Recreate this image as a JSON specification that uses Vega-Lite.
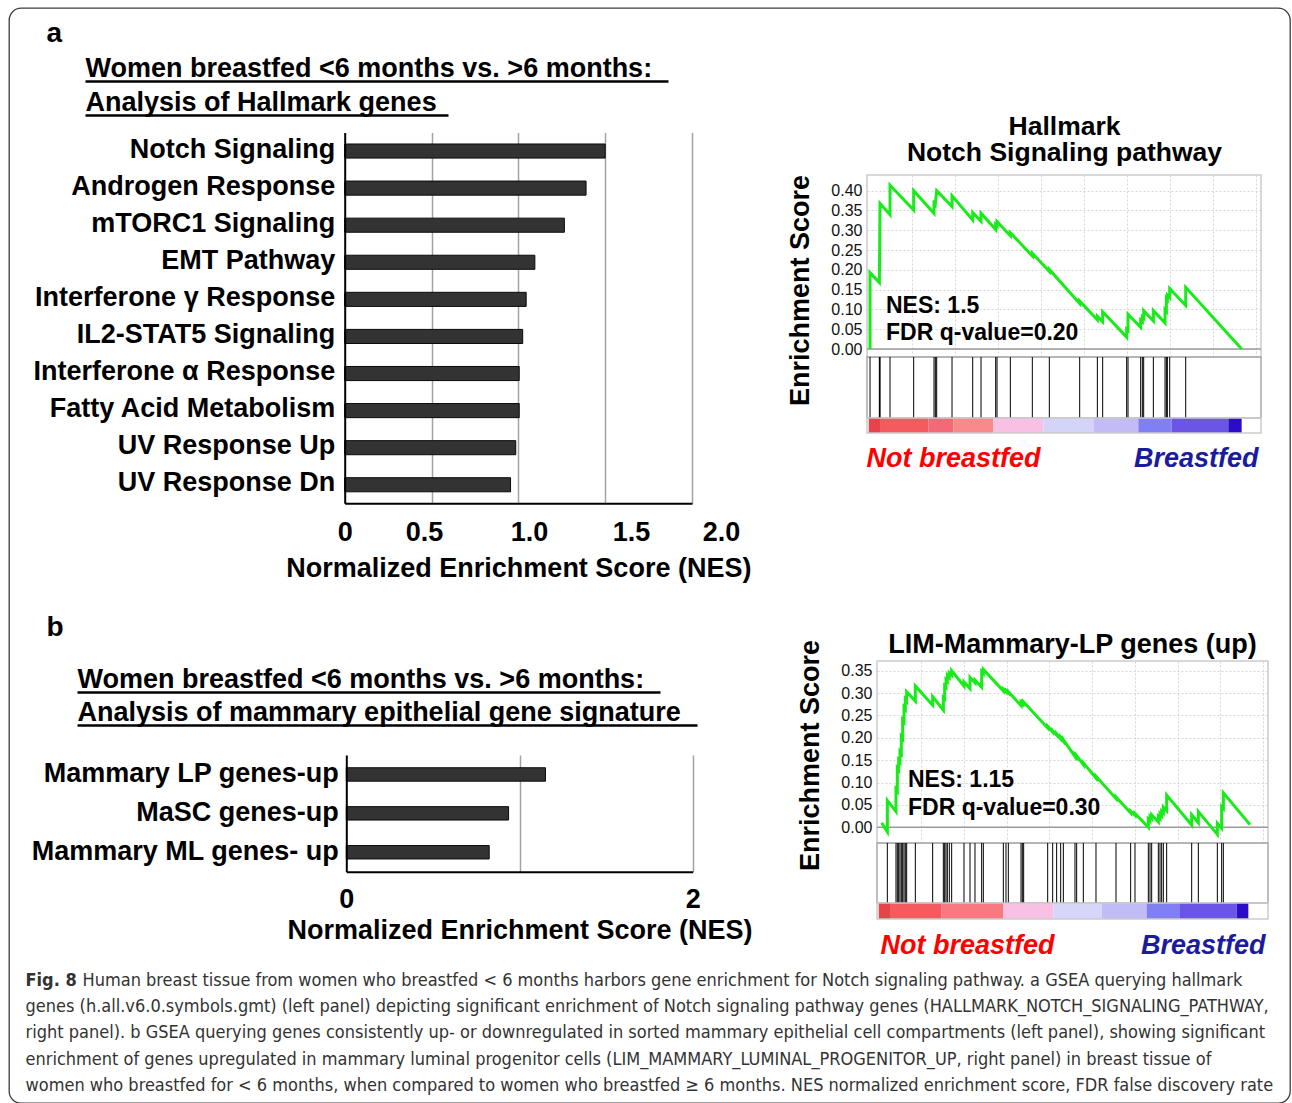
{
"$schema": "https://vega.github.io/schema/vega-lite/v6.json",
"width": 1281, "height": 1095,
"autosize": {"type": "none"},
"padding": {"left": 9, "top": 8, "right": 2, "bottom": 0},
"background": "white",
"config": {
  "view": {"stroke": "#3c3c3c", "strokeWidth": 1.3, "cornerRadius": 12},
  "font": "Liberation Sans",
  "axis": {"labels": false, "ticks": false, "domain": false, "grid": false, "labelColor": "#000", "titleColor": "#000", "labelLimit": 2000, "titleLimit": 2000, "minExtent": 0, "labelFlush": false, "labelOverlap": false, "labelFont": "Liberation Sans", "titleFont": "Liberation Sans"}
},
"datasets": {
  "barsA": [
    {"set": "Notch Signaling", "nes": 1.50},
    {"set": "Androgen Response", "nes": 1.39},
    {"set": "mTORC1 Signaling", "nes": 1.265},
    {"set": "EMT Pathway", "nes": 1.095},
    {"set": "Interferone γ Response", "nes": 1.045},
    {"set": "IL2-STAT5 Signaling", "nes": 1.025},
    {"set": "Interferone α Response", "nes": 1.005},
    {"set": "Fatty Acid Metabolism", "nes": 1.005},
    {"set": "UV Response Up", "nes": 0.985},
    {"set": "UV Response Dn", "nes": 0.955}
  ],
  "barsB": [
    {"set": "Mammary LP genes-up", "nes": 1.15},
    {"set": "MaSC genes-up", "nes": 0.937},
    {"set": "Mammary ML genes- up", "nes": 0.825}
  ],
  "esA": [
    {"i":1,"rank":76,"es":0},{"i":2,"rank":76,"es":0.193},{"i":3,"rank":618,"es":0.168},{"i":4,"rank":638,"es":0.267},
    {"i":5,"rank":657,"es":0.368},{"i":6,"rank":1238,"es":0.339},{"i":7,"rank":1238,"es":0.414},{"i":8,"rank":2613,"es":0.351},
    {"i":9,"rank":2613,"es":0.400},{"i":10,"rank":3795,"es":0.343},{"i":11,"rank":3795,"es":0.375},{"i":12,"rank":3873,"es":0.368},
    {"i":13,"rank":3950,"es":0.400},{"i":14,"rank":4842,"es":0.360},{"i":15,"rank":4842,"es":0.387},{"i":16,"rank":6043,"es":0.326},
    {"i":17,"rank":6043,"es":0.345},{"i":18,"rank":6527,"es":0.323},{"i":19,"rank":6527,"es":0.343},{"i":20,"rank":7379,"es":0.302},
    {"i":21,"rank":7379,"es":0.315},{"i":22,"rank":7457,"es":0.312},{"i":23,"rank":7457,"es":0.322},{"i":24,"rank":8232,"es":0.286},
    {"i":25,"rank":8232,"es":0.294},{"i":26,"rank":9510,"es":0.235},{"i":27,"rank":9510,"es":0.242},{"i":28,"rank":10498,"es":0.196},
    {"i":29,"rank":10498,"es":0.201},{"i":30,"rank":12261,"es":0.115},{"i":31,"rank":12261,"es":0.121},{"i":32,"rank":13288,"es":0.074},
    {"i":33,"rank":13288,"es":0.083},{"i":34,"rank":13598,"es":0.069},{"i":35,"rank":13598,"es":0.094},{"i":36,"rank":14993,"es":0.030},
    {"i":37,"rank":14993,"es":0.050},{"i":38,"rank":15070,"es":0.047},{"i":39,"rank":15070,"es":0.088},{"i":40,"rank":15806,"es":0.055},
    {"i":41,"rank":15806,"es":0.073},{"i":42,"rank":15903,"es":0.069},{"i":43,"rank":15903,"es":0.081},{"i":44,"rank":15981,"es":0.078},
    {"i":45,"rank":15981,"es":0.097},{"i":46,"rank":16543,"es":0.071},{"i":47,"rank":16543,"es":0.097},{"i":48,"rank":17223,"es":0.066},
    {"i":49,"rank":17223,"es":0.099},{"i":50,"rank":17300,"es":0.095},{"i":51,"rank":17300,"es":0.128},{"i":52,"rank":17358,"es":0.125},
    {"i":53,"rank":17358,"es":0.136},{"i":54,"rank":17494,"es":0.130},{"i":55,"rank":17494,"es":0.153},{"i":56,"rank":18424,"es":0.110},
    {"i":57,"rank":18424,"es":0.156},{"i":58,"rank":21676,"es":0}
  ],
  "hitsA": [
    {"rank":76},{"rank":618},{"rank":638},{"rank":657},{"rank":1238},{"rank":2613},{"rank":3795},{"rank":3873},{"rank":3950},
    {"rank":4842},{"rank":6043},{"rank":6527},{"rank":7379},{"rank":7457},{"rank":8232},{"rank":9510},{"rank":10498},{"rank":12261},
    {"rank":13288},{"rank":13598},{"rank":14993},{"rank":15070},{"rank":15806},{"rank":15903},{"rank":15981},{"rank":16543},
    {"rank":17223},{"rank":17300},{"rank":17358},{"rank":17494},{"rank":18424}
  ],
  "cbarA": [
    {"seg":1,"start":0,"end":657},{"seg":2,"start":657,"end":3466},{"seg":3,"start":3466,"end":4919},{"seg":4,"start":4919,"end":7244},
    {"seg":5,"start":7244,"end":10150},{"seg":6,"start":10150,"end":13056},{"seg":7,"start":13056,"end":15670},{"seg":8,"start":15670,"end":17608},
    {"seg":9,"start":17608,"end":20902},{"seg":10,"start":20902,"end":21676}
  ],
  "esB": [
    {"i":1,"rank":173,"es":0.010},{"i":2,"rank":505,"es":-0.010},{"i":3,"rank":505,"es":0.060},{"i":4,"rank":1012,"es":0.035},
    {"i":5,"rank":1012,"es":0.085},{"i":6,"rank":1090,"es":0.081},{"i":7,"rank":1090,"es":0.132},{"i":8,"rank":1168,"es":0.128},
    {"i":9,"rank":1168,"es":0.150},{"i":10,"rank":1246,"es":0.146},{"i":11,"rank":1246,"es":0.169},{"i":12,"rank":1324,"es":0.165},
    {"i":13,"rank":1324,"es":0.203},{"i":14,"rank":1403,"es":0.199},{"i":15,"rank":1403,"es":0.240},{"i":16,"rank":1481,"es":0.236},
    {"i":17,"rank":1481,"es":0.268},{"i":18,"rank":1559,"es":0.264},{"i":19,"rank":1559,"es":0.286},{"i":20,"rank":1637,"es":0.282},
    {"i":21,"rank":1637,"es":0.303},{"i":22,"rank":2145,"es":0.282},{"i":23,"rank":2145,"es":0.316},{"i":24,"rank":3160,"es":0.273},
    {"i":25,"rank":3160,"es":0.292},{"i":26,"rank":3785,"es":0.262},{"i":27,"rank":3785,"es":0.290},{"i":28,"rank":3863,"es":0.287},
    {"i":29,"rank":3863,"es":0.316},{"i":30,"rank":3941,"es":0.313},{"i":31,"rank":3941,"es":0.330},{"i":32,"rank":4019,"es":0.327},
    {"i":33,"rank":4019,"es":0.340},{"i":34,"rank":4136,"es":0.335},{"i":35,"rank":4136,"es":0.345},{"i":36,"rank":4273,"es":0.340},
    {"i":37,"rank":4273,"es":0.350},{"i":38,"rank":4995,"es":0.316},{"i":39,"rank":4995,"es":0.325},{"i":40,"rank":5347,"es":0.310},
    {"i":41,"rank":5347,"es":0.335},{"i":42,"rank":5639,"es":0.323},{"i":43,"rank":5639,"es":0.329},{"i":44,"rank":6030,"es":0.313},
    {"i":45,"rank":6030,"es":0.348},{"i":46,"rank":6127,"es":0.344},{"i":47,"rank":6127,"es":0.353},{"i":48,"rank":7299,"es":0.305},
    {"i":49,"rank":7299,"es":0.309},{"i":50,"rank":7455,"es":0.303},{"i":51,"rank":7455,"es":0.306},{"i":52,"rank":7592,"es":0.301},
    {"i":53,"rank":7592,"es":0.303},{"i":54,"rank":8334,"es":0.272},{"i":55,"rank":8334,"es":0.279},{"i":56,"rank":8412,"es":0.276},
    {"i":57,"rank":8412,"es":0.280},{"i":58,"rank":8490,"es":0.277},{"i":59,"rank":8490,"es":0.280},{"i":60,"rank":9896,"es":0.222},
    {"i":61,"rank":9896,"es":0.226},{"i":62,"rank":10188,"es":0.213},{"i":63,"rank":10188,"es":0.216},{"i":64,"rank":10422,"es":0.206},
    {"i":65,"rank":10422,"es":0.209},{"i":66,"rank":10657,"es":0.198},{"i":67,"rank":10657,"es":0.201},{"i":68,"rank":10813,"es":0.193},
    {"i":69,"rank":10813,"es":0.196},{"i":70,"rank":11496,"es":0.158},{"i":71,"rank":11496,"es":0.162},{"i":72,"rank":11594,"es":0.157},
    {"i":73,"rank":11594,"es":0.160},{"i":74,"rank":11984,"es":0.140},{"i":75,"rank":11984,"es":0.144},{"i":76,"rank":12726,"es":0.110},
    {"i":77,"rank":12726,"es":0.114},{"i":78,"rank":13898,"es":0.064},{"i":79,"rank":13898,"es":0.068},{"i":80,"rank":14756,"es":0.032},
    {"i":81,"rank":14756,"es":0.036},{"i":82,"rank":15010,"es":0.027},{"i":83,"rank":15010,"es":0.031},{"i":84,"rank":15791,"es":0.000},
    {"i":85,"rank":15791,"es":0.018},{"i":86,"rank":15889,"es":0.014},{"i":87,"rank":15889,"es":0.024},{"i":88,"rank":15987,"es":0.020},
    {"i":89,"rank":15987,"es":0.028},{"i":90,"rank":16377,"es":0.012},{"i":91,"rank":16377,"es":0.024},{"i":92,"rank":16475,"es":0.020},
    {"i":93,"rank":16475,"es":0.030},{"i":94,"rank":16572,"es":0.026},{"i":95,"rank":16572,"es":0.036},{"i":96,"rank":16670,"es":0.032},
    {"i":97,"rank":16670,"es":0.045},{"i":98,"rank":16865,"es":0.037},{"i":99,"rank":16865,"es":0.072},{"i":100,"rank":18330,"es":0.005},
    {"i":101,"rank":18330,"es":0.028},{"i":102,"rank":18720,"es":0.010},{"i":103,"rank":18720,"es":0.035},{"i":104,"rank":19833,"es":-0.016},
    {"i":105,"rank":19833,"es":0.009},{"i":106,"rank":20086,"es":-0.002},{"i":107,"rank":20086,"es":0.046},{"i":108,"rank":20184,"es":0.042},
    {"i":109,"rank":20184,"es":0.077},{"i":110,"rank":21746,"es":0.006}
  ],
  "hitsB": [
    {"rank":505},{"rank":1012},{"rank":1090},{"rank":1168},{"rank":1246},{"rank":1324},{"rank":1403},{"rank":1481},{"rank":1559},{"rank":1637},
    {"rank":2145},{"rank":3160},{"rank":3785},{"rank":3863},{"rank":3941},{"rank":4019},{"rank":4136},{"rank":4273},{"rank":4995},{"rank":5347},
    {"rank":5639},{"rank":6030},{"rank":6127},{"rank":7299},{"rank":7455},{"rank":7592},{"rank":8334},{"rank":8412},{"rank":8490},{"rank":9896},
    {"rank":10188},{"rank":10422},{"rank":10657},{"rank":10813},{"rank":11496},{"rank":11594},{"rank":11984},{"rank":12726},{"rank":13898},
    {"rank":14756},{"rank":15010},{"rank":15791},{"rank":15889},{"rank":15987},{"rank":16377},{"rank":16475},{"rank":16572},{"rank":16670},
    {"rank":16865},{"rank":18330},{"rank":18720},{"rank":19833},{"rank":20086},{"rank":20184}
  ],
  "cbarB": [
    {"seg":1,"start":0,"end":661},{"seg":2,"start":661,"end":3687},{"seg":3,"start":3687,"end":7299},{"seg":4,"start":7299,"end":10227},
    {"seg":5,"start":10227,"end":13058},{"seg":6,"start":13058,"end":15694},{"seg":7,"start":15694,"end":17646},{"seg":8,"start":17646,"end":20965},
    {"seg":9,"start":20965,"end":21648}
  ]
},
"resolve": {"scale": {"x": "independent", "y": "independent", "color": "independent"}, "axis": {"x": "independent", "y": "independent"}},
"layer": [
  {"data": {"values": [{"v": 0}]}, "mark": {"type": "point", "opacity": 0},
   "encoding": {"x": {"field": "v", "type": "quantitative", "scale": {"domain": [0, 1], "range": [37, 61]},
     "axis": {"orient": "top", "offset": -33.5, "title": "a", "titleAnchor": "start", "titleAlign": "left", "titleBaseline": "alphabetic", "titlePadding": 0, "titleFontSize": 28, "titleFontWeight": "bold"}}}},
  {"data": {"values": [{"v": 0}]}, "mark": {"type": "point", "opacity": 0},
   "encoding": {"x": {"field": "v", "type": "quantitative", "scale": {"domain": [0, 1], "range": [76, 659]},
     "axis": {"orient": "top", "offset": -73, "domain": true, "domainColor": "#000", "domainWidth": 2.5, "title": "Women breastfed <6 months vs. >6 months:", "titleAnchor": "start", "titleAlign": "left", "titleBaseline": "alphabetic", "titlePadding": 5, "titleFontSize": 27, "titleFontWeight": "bold"}}}},
  {"data": {"values": [{"v": 0}]}, "mark": {"type": "point", "opacity": 0},
   "encoding": {"x": {"field": "v", "type": "quantitative", "scale": {"domain": [0, 1], "range": [76, 439]},
     "axis": {"orient": "top", "offset": -107, "domain": true, "domainColor": "#000", "domainWidth": 2.5, "title": "Analysis of Hallmark genes", "titleAnchor": "start", "titleAlign": "left", "titleBaseline": "alphabetic", "titlePadding": 5, "titleFontSize": 27, "titleFontWeight": "bold"}}}},

  {"data": {"name": "barsA"}, "mark": {"type": "point", "opacity": 0},
   "encoding": {
     "x": {"field": "nes", "type": "quantitative", "scale": {"domain": [0, 2], "range": [335.7, 683], "nice": false, "zero": false},
       "axis": {"orient": "top", "offset": 0, "grid": true, "gridColor": "#a3a3a3", "gridWidth": 1.5, "values": [0.5, 1, 1.5, 2], "title": null}},
     "y": {"field": "set", "type": "nominal", "sort": null, "scale": {"range": [124.5, 495.3], "paddingInner": 0.62, "paddingOuter": 0.31}, "axis": null}}},
  {"data": {"name": "barsA"}, "mark": {"type": "point", "opacity": 0},
   "encoding": {
     "x": {"field": "nes", "type": "quantitative", "scale": {"domain": [0, 2.2], "range": [335.7, 717.7], "nice": false, "zero": false},
       "axis": {"orient": "bottom", "offset": -599.7, "labels": true, "values": [0, 0.457, 1.061, 1.649, 2.167],
         "labelExpr": "datum.value < 0.2 ? '0' : datum.value < 0.8 ? '0.5' : datum.value < 1.4 ? '1.0' : datum.value < 1.9 ? '1.5' : '2.0'",
         "labelFontSize": 27, "labelFontWeight": "bold", "labelBaseline": "alphabetic", "labelPadding": 36.7, "title": null}}}},
  {"data": {"name": "barsA"}, "mark": {"type": "bar", "fill": "#333333", "stroke": "#0a0a0a", "strokeWidth": 1},
   "encoding": {
     "y": {"field": "set", "type": "nominal", "sort": null, "scale": {"range": [124.5, 495.3], "paddingInner": 0.62, "paddingOuter": 0.31},
       "axis": {"orient": "left", "offset": -335.7, "domain": true, "domainColor": "#000", "domainWidth": 2, "labels": true, "labelFontSize": 27, "labelFontWeight": "bold", "labelPadding": 10, "labelOffset": -1.5, "title": null, "zindex": 1}},
     "x": {"field": "nes", "type": "quantitative", "scale": {"domain": [0, 2], "range": [335.7, 683], "nice": false},
       "axis": {"orient": "bottom", "offset": -599.7, "domain": true, "domainColor": "#000", "domainWidth": 2, "title": "Normalized Enrichment Score (NES)", "titleFontSize": 27, "titleFontWeight": "bold", "titleBaseline": "alphabetic", "titlePadding": 73, "zindex": 1}}}},

  {"data": {"values": [{}]}, "mark": {"type": "rect", "filled": false, "stroke": "#cccccc", "strokeWidth": 1.5},
   "encoding": {
     "x": {"datum": -100, "type": "quantitative", "scale": {"domain": [-100, 22800], "range": [858, 1252], "nice": false, "zero": false}, "axis": null},
     "x2": {"datum": 22800},
     "y": {"datum": -0.0202, "type": "quantitative", "scale": {"domain": [-0.0202, 0.4397], "range": [349, 167], "nice": false, "zero": false}, "axis": null},
     "y2": {"datum": 0.4397}}},
  {"data": {"values": [{}]}, "mark": {"type": "rule", "stroke": "#9a9a9a", "strokeWidth": 1.5},
   "encoding": {
     "x": {"datum": -100, "type": "quantitative", "scale": {"domain": [-100, 22800], "range": [858, 1252], "nice": false, "zero": false}, "axis": null},
     "x2": {"datum": 22800},
     "y": {"datum": 0, "type": "quantitative", "scale": {"domain": [-0.0202, 0.4397], "range": [349, 167], "nice": false, "zero": false}, "axis": null}}},
  {"data": {"name": "esA"}, "mark": {"type": "line", "stroke": "#19ea19", "strokeWidth": 3},
   "encoding": {
     "order": {"field": "i", "type": "quantitative"},
     "x": {"field": "rank", "type": "quantitative", "scale": {"domain": [-100, 22800], "range": [858, 1252], "nice": false, "zero": false},
       "axis": {"orient": "top", "offset": -167, "grid": true, "gridColor": "#d6d6d6", "gridDash": [2, 2], "gridWidth": 1,
         "values": [2500, 5000, 7500, 10000, 12500, 15000, 17500, 20000, 22500],
         "title": ["Hallmark", "Notch Signaling pathway"], "titleX": 1055, "titleY": -41, "titleAlign": "center", "titleBaseline": "alphabetic", "titleLineHeight": 26, "titleFontSize": 26.5, "titleFontWeight": "bold"}},
     "y": {"field": "es", "type": "quantitative", "scale": {"domain": [-0.0202, 0.4397], "range": [349, 167], "nice": false, "zero": false},
       "axis": {"orient": "left", "offset": -858, "labels": true, "values": [0, 0.05, 0.1, 0.15, 0.2, 0.25, 0.3, 0.35, 0.4], "format": ".2f",
         "labelFontSize": 16, "labelColor": "#111", "labelPadding": 5, "grid": true, "gridColor": "#d6d6d6", "gridDash": [2, 2], "gridWidth": 1,
         "title": "Enrichment Score", "titleX": -59, "titleY": 282, "titleAngle": 270, "titleAlign": "center", "titleBaseline": "alphabetic", "titleFontSize": 27, "titleFontWeight": "bold"}}}},
  {"data": {"values": [{}]}, "mark": {"type": "text", "align": "left", "baseline": "alphabetic", "fontSize": 23, "fontWeight": "bold", "lineHeight": 27.5, "color": "#000"},
   "encoding": {
     "text": {"value": ["NES: 1.5", "FDR q-value=0.20"]},
     "x": {"datum": 1005, "type": "quantitative", "scale": {"domain": [-100, 22800], "range": [858, 1252], "nice": false, "zero": false}, "axis": null},
     "y": {"datum": 0.0917, "type": "quantitative", "scale": {"domain": [-0.0202, 0.4397], "range": [349, 167], "nice": false, "zero": false}, "axis": null}}},
  {"data": {"values": [{}]}, "mark": {"type": "rect", "filled": false, "stroke": "#a9a9a9", "strokeWidth": 1.5},
   "encoding": {
     "x": {"datum": -100, "type": "quantitative", "scale": {"domain": [-100, 22800], "range": [858, 1252], "nice": false, "zero": false}, "axis": null},
     "x2": {"datum": 22800},
     "y": {"datum": 0, "type": "quantitative", "scale": {"domain": [0, 1], "range": [410, 349], "nice": false, "zero": false}, "axis": null},
     "y2": {"datum": 1}}},
  {"data": {"name": "hitsA"}, "mark": {"type": "rule", "stroke": "#000", "strokeWidth": 1},
   "encoding": {
     "x": {"field": "rank", "type": "quantitative", "scale": {"domain": [-100, 22800], "range": [858, 1252], "nice": false, "zero": false},
       "axis": {"orient": "bottom", "offset": -685, "title": "Breastfed", "titleX": 1249, "titleY": 48, "titleAlign": "right", "titleBaseline": "alphabetic", "titleColor": "#1b1b9e", "titleFontSize": 27, "titleFontWeight": "bold", "titleFontStyle": "italic"}},
     "y": {"datum": 0, "type": "quantitative", "scale": {"domain": [0, 1], "range": [410, 349], "nice": false, "zero": false}, "axis": null},
     "y2": {"datum": 1}}},
  {"data": {"name": "cbarA"}, "mark": {"type": "rect"},
   "encoding": {
     "x": {"field": "start", "type": "quantitative", "scale": {"domain": [-100, 22800], "range": [858, 1252], "nice": false, "zero": false},
       "axis": {"orient": "bottom", "offset": -670, "title": "Not breastfed", "titleX": 857, "titleY": 33, "titleAlign": "left", "titleBaseline": "alphabetic", "titleColor": "#ff0000", "titleFontSize": 27, "titleFontWeight": "bold", "titleFontStyle": "italic"}},
     "x2": {"field": "end"},
     "y": {"datum": 0, "type": "quantitative", "scale": {"domain": [0, 1], "range": [425, 410], "nice": false, "zero": false}, "axis": null},
     "y2": {"datum": 1},
     "color": {"field": "seg", "type": "ordinal", "scale": {"domain": [1,2,3,4,5,6,7,8,9,10], "range": ["#e6434b","#f45a5e","#f46878","#f88a8c","#f8c0e2","#d4d4f8","#c2bbf6","#8080f2","#6a55e6","#2c0cc8"]}, "legend": null}}},
  {"data": {"values": [{}]}, "mark": {"type": "rect", "filled": false, "stroke": "#cccccc", "strokeWidth": 1.5},
   "encoding": {
     "x": {"datum": -100, "type": "quantitative", "scale": {"domain": [-100, 22800], "range": [858, 1252], "nice": false, "zero": false}, "axis": null},
     "x2": {"datum": 22800},
     "y": {"datum": 0, "type": "quantitative", "scale": {"domain": [0, 1], "range": [425, 410], "nice": false, "zero": false}, "axis": null},
     "y2": {"datum": 1}}},

  {"data": {"values": [{"v": 0}]}, "mark": {"type": "point", "opacity": 0},
   "encoding": {"x": {"field": "v", "type": "quantitative", "scale": {"domain": [0, 1], "range": [37, 61]},
     "axis": {"orient": "top", "offset": -627, "title": "b", "titleAnchor": "start", "titleAlign": "left", "titleBaseline": "alphabetic", "titlePadding": 0, "titleFontSize": 28, "titleFontWeight": "bold"}}}},
  {"data": {"values": [{"v": 0}]}, "mark": {"type": "point", "opacity": 0},
   "encoding": {"x": {"field": "v", "type": "quantitative", "scale": {"domain": [0, 1], "range": [68, 651]},
     "axis": {"orient": "top", "offset": -684, "domain": true, "domainColor": "#000", "domainWidth": 2.5, "title": "Women breastfed <6 months vs. >6 months:", "titleAnchor": "start", "titleAlign": "left", "titleBaseline": "alphabetic", "titlePadding": 5, "titleFontSize": 27, "titleFontWeight": "bold"}}}},
  {"data": {"values": [{"v": 0}]}, "mark": {"type": "point", "opacity": 0},
   "encoding": {"x": {"field": "v", "type": "quantitative", "scale": {"domain": [0, 1], "range": [68, 688]},
     "axis": {"orient": "top", "offset": -717, "domain": true, "domainColor": "#000", "domainWidth": 2.5, "title": "Analysis of mammary epithelial gene signature", "titleAnchor": "start", "titleAlign": "left", "titleBaseline": "alphabetic", "titlePadding": 5, "titleFontSize": 27, "titleFontWeight": "bold"}}}},

  {"data": {"name": "barsB"}, "mark": {"type": "point", "opacity": 0},
   "encoding": {
     "x": {"field": "nes", "type": "quantitative", "scale": {"domain": [0, 2], "range": [337.3, 683.7], "nice": false, "zero": false},
       "axis": {"orient": "top", "offset": 0, "grid": true, "gridColor": "#a3a3a3", "gridWidth": 1.5, "values": [1, 2], "title": null}},
     "y": {"field": "set", "type": "nominal", "sort": null, "scale": {"range": [747, 863.7], "paddingInner": 0.655, "paddingOuter": 0.3275}, "axis": null}}},
  {"data": {"name": "barsB"}, "mark": {"type": "bar", "fill": "#333333", "stroke": "#0a0a0a", "strokeWidth": 1},
   "encoding": {
     "y": {"field": "set", "type": "nominal", "sort": null, "scale": {"range": [747, 863.7], "paddingInner": 0.655, "paddingOuter": 0.3275},
       "axis": {"orient": "left", "offset": -337.3, "domain": true, "domainColor": "#000", "domainWidth": 2, "labels": true, "labelFontSize": 27, "labelFontWeight": "bold", "labelPadding": 8, "title": null, "zindex": 1}},
     "x": {"field": "nes", "type": "quantitative", "scale": {"domain": [0, 2], "range": [337.3, 683.7], "nice": false},
       "axis": {"orient": "bottom", "offset": -231.3, "domain": true, "domainColor": "#000", "domainWidth": 2, "labels": true, "values": [0, 1, 2], "format": "d", "labelFontSize": 27, "labelFontWeight": "bold", "labelBaseline": "alphabetic", "labelPadding": 35.3,
         "title": "Normalized Enrichment Score (NES)", "titleFontSize": 27, "titleFontWeight": "bold", "titleBaseline": "alphabetic", "titlePadding": 26, "zindex": 1}}}},

  {"data": {"values": [{}]}, "mark": {"type": "rect", "filled": false, "stroke": "#cccccc", "strokeWidth": 1.5},
   "encoding": {
     "x": {"datum": -100, "type": "quantitative", "scale": {"domain": [-100, 22800], "range": [868, 1259], "nice": false, "zero": false}, "axis": null},
     "x2": {"datum": 22800},
     "y": {"datum": -0.0351, "type": "quantitative", "scale": {"domain": [-0.0351, 0.3717], "range": [835, 653], "nice": false, "zero": false}, "axis": null},
     "y2": {"datum": 0.3717}}},
  {"data": {"values": [{}]}, "mark": {"type": "rule", "stroke": "#9a9a9a", "strokeWidth": 1.5},
   "encoding": {
     "x": {"datum": -100, "type": "quantitative", "scale": {"domain": [-100, 22800], "range": [868, 1259], "nice": false, "zero": false}, "axis": null},
     "x2": {"datum": 22800},
     "y": {"datum": 0, "type": "quantitative", "scale": {"domain": [-0.0351, 0.3717], "range": [835, 653], "nice": false, "zero": false}, "axis": null}}},
  {"data": {"name": "esB"}, "mark": {"type": "line", "stroke": "#19ea19", "strokeWidth": 3},
   "encoding": {
     "order": {"field": "i", "type": "quantitative"},
     "x": {"field": "rank", "type": "quantitative", "scale": {"domain": [-100, 22800], "range": [868, 1259], "nice": false, "zero": false},
       "axis": {"orient": "top", "offset": -653, "grid": true, "gridColor": "#d6d6d6", "gridDash": [2, 2], "gridWidth": 1,
         "values": [2500, 5000, 7500, 10000, 12500, 15000, 17500, 20000, 22500],
         "title": "LIM-Mammary-LP genes (up)", "titleX": 1063, "titleY": -9, "titleAlign": "center", "titleBaseline": "alphabetic", "titleFontSize": 27, "titleFontWeight": "bold"}},
     "y": {"field": "es", "type": "quantitative", "scale": {"domain": [-0.0351, 0.3717], "range": [835, 653], "nice": false, "zero": false},
       "axis": {"orient": "left", "offset": -868, "labels": true, "values": [0, 0.05, 0.1, 0.15, 0.2, 0.25, 0.3, 0.35], "format": ".2f",
         "labelFontSize": 16, "labelColor": "#111", "labelPadding": 5, "grid": true, "gridColor": "#d6d6d6", "gridDash": [2, 2], "gridWidth": 1,
         "title": "Enrichment Score", "titleX": -59, "titleY": 747, "titleAngle": 270, "titleAlign": "center", "titleBaseline": "alphabetic", "titleFontSize": 27, "titleFontWeight": "bold"}}}},
  {"data": {"values": [{}]}, "mark": {"type": "text", "align": "left", "baseline": "alphabetic", "fontSize": 23, "fontWeight": "bold", "lineHeight": 27.7, "color": "#000"},
   "encoding": {
     "text": {"value": ["NES: 1.15", "FDR q-value=0.30"]},
     "x": {"datum": 1716, "type": "quantitative", "scale": {"domain": [-100, 22800], "range": [868, 1259], "nice": false, "zero": false}, "axis": null},
     "y": {"datum": 0.0894, "type": "quantitative", "scale": {"domain": [-0.0351, 0.3717], "range": [835, 653], "nice": false, "zero": false}, "axis": null}}},
  {"data": {"values": [{}]}, "mark": {"type": "rect", "filled": false, "stroke": "#a9a9a9", "strokeWidth": 1.5},
   "encoding": {
     "x": {"datum": -100, "type": "quantitative", "scale": {"domain": [-100, 22800], "range": [868, 1259], "nice": false, "zero": false}, "axis": null},
     "x2": {"datum": 22800},
     "y": {"datum": 0, "type": "quantitative", "scale": {"domain": [0, 1], "range": [895, 835], "nice": false, "zero": false}, "axis": null},
     "y2": {"datum": 1}}},
  {"data": {"name": "hitsB"}, "mark": {"type": "rule", "stroke": "#000", "strokeWidth": 1},
   "encoding": {
     "x": {"field": "rank", "type": "quantitative", "scale": {"domain": [-100, 22800], "range": [868, 1259], "nice": false, "zero": false},
       "axis": {"orient": "bottom", "offset": -200, "title": "Breastfed", "titleX": 1256, "titleY": 50, "titleAlign": "right", "titleBaseline": "alphabetic", "titleColor": "#1b1b9e", "titleFontSize": 27, "titleFontWeight": "bold", "titleFontStyle": "italic"}},
     "y": {"datum": 0, "type": "quantitative", "scale": {"domain": [0, 1], "range": [895, 835], "nice": false, "zero": false}, "axis": null},
     "y2": {"datum": 1}}},
  {"data": {"name": "cbarB"}, "mark": {"type": "rect"},
   "encoding": {
     "x": {"field": "start", "type": "quantitative", "scale": {"domain": [-100, 22800], "range": [868, 1259], "nice": false, "zero": false},
       "axis": {"orient": "bottom", "offset": -184, "title": "Not breastfed", "titleX": 871, "titleY": 34, "titleAlign": "left", "titleBaseline": "alphabetic", "titleColor": "#ff0000", "titleFontSize": 27, "titleFontWeight": "bold", "titleFontStyle": "italic"}},
     "x2": {"field": "end"},
     "y": {"datum": 0, "type": "quantitative", "scale": {"domain": [0, 1], "range": [911, 895], "nice": false, "zero": false}, "axis": null},
     "y2": {"datum": 1},
     "color": {"field": "seg", "type": "ordinal", "scale": {"domain": [1,2,3,4,5,6,7,8,9], "range": ["#e6434b","#f45a5e","#f87a80","#f8c0e2","#d6d6f8","#c0bcf6","#8080f2","#6a55e6","#2c0cc8"]}, "legend": null}}},
  {"data": {"values": [{}]}, "mark": {"type": "rect", "filled": false, "stroke": "#cccccc", "strokeWidth": 1.5},
   "encoding": {
     "x": {"datum": -100, "type": "quantitative", "scale": {"domain": [-100, 22800], "range": [868, 1259], "nice": false, "zero": false}, "axis": null},
     "x2": {"datum": 22800},
     "y": {"datum": 0, "type": "quantitative", "scale": {"domain": [0, 1], "range": [911, 895], "nice": false, "zero": false}, "axis": null},
     "y2": {"datum": 1}}},

  {"data": {"values": [{"v": 0}]}, "mark": {"type": "point", "opacity": 0},
   "encoding": {"x": {"field": "v", "type": "quantitative", "scale": {"domain": [0, 1], "range": [16, 1270]},
     "axis": {"orient": "top", "offset": 0, "title": "Fig. 8", "titleX": 16, "titleY": 977.5, "titleAlign": "left", "titleBaseline": "alphabetic", "titleFont": "DejaVu Sans Condensed, Liberation Sans, sans-serif", "titleFontSize": 18, "titleFontWeight": "bold", "titleColor": "#333"}}}},
  {"data": {"values": [{"v": 0}]}, "mark": {"type": "point", "opacity": 0},
   "encoding": {"x": {"field": "v", "type": "quantitative", "scale": {"domain": [0, 1], "range": [16, 1270]},
     "axis": {"orient": "top", "offset": 0, "title": "Human breast tissue from women who breastfed < 6 months harbors gene enrichment for Notch signaling pathway. a GSEA querying hallmark", "titleX": 73, "titleY": 977.5, "titleAlign": "left", "titleBaseline": "alphabetic", "titleFont": "DejaVu Sans Condensed, Liberation Sans, sans-serif", "titleFontSize": 18, "titleFontWeight": "normal", "titleColor": "#333"}}}},
  {"data": {"values": [{"v": 0}]}, "mark": {"type": "point", "opacity": 0},
   "encoding": {"x": {"field": "v", "type": "quantitative", "scale": {"domain": [0, 1], "range": [16, 1270]},
     "axis": {"orient": "top", "offset": 0, "title": [
        "genes (h.all.v6.0.symbols.gmt) (left panel) depicting significant enrichment of Notch signaling pathway genes (HALLMARK_NOTCH_SIGNALING_PATHWAY,",
        "right panel). b GSEA querying genes consistently up- or downregulated in sorted mammary epithelial cell compartments (left panel), showing significant",
        "enrichment of genes upregulated in mammary luminal progenitor cells (LIM_MAMMARY_LUMINAL_PROGENITOR_UP, right panel) in breast tissue of",
        "women who breastfed for < 6 months, when compared to women who breastfed ≥ 6 months. NES normalized enrichment score, FDR false discovery rate"],
       "titleX": 16, "titleY": 1003.7, "titleAlign": "left", "titleBaseline": "alphabetic", "titleLineHeight": 26.2, "titleFont": "DejaVu Sans Condensed, Liberation Sans, sans-serif", "titleFontSize": 18, "titleFontWeight": "normal", "titleColor": "#333"}}}}
]
}
